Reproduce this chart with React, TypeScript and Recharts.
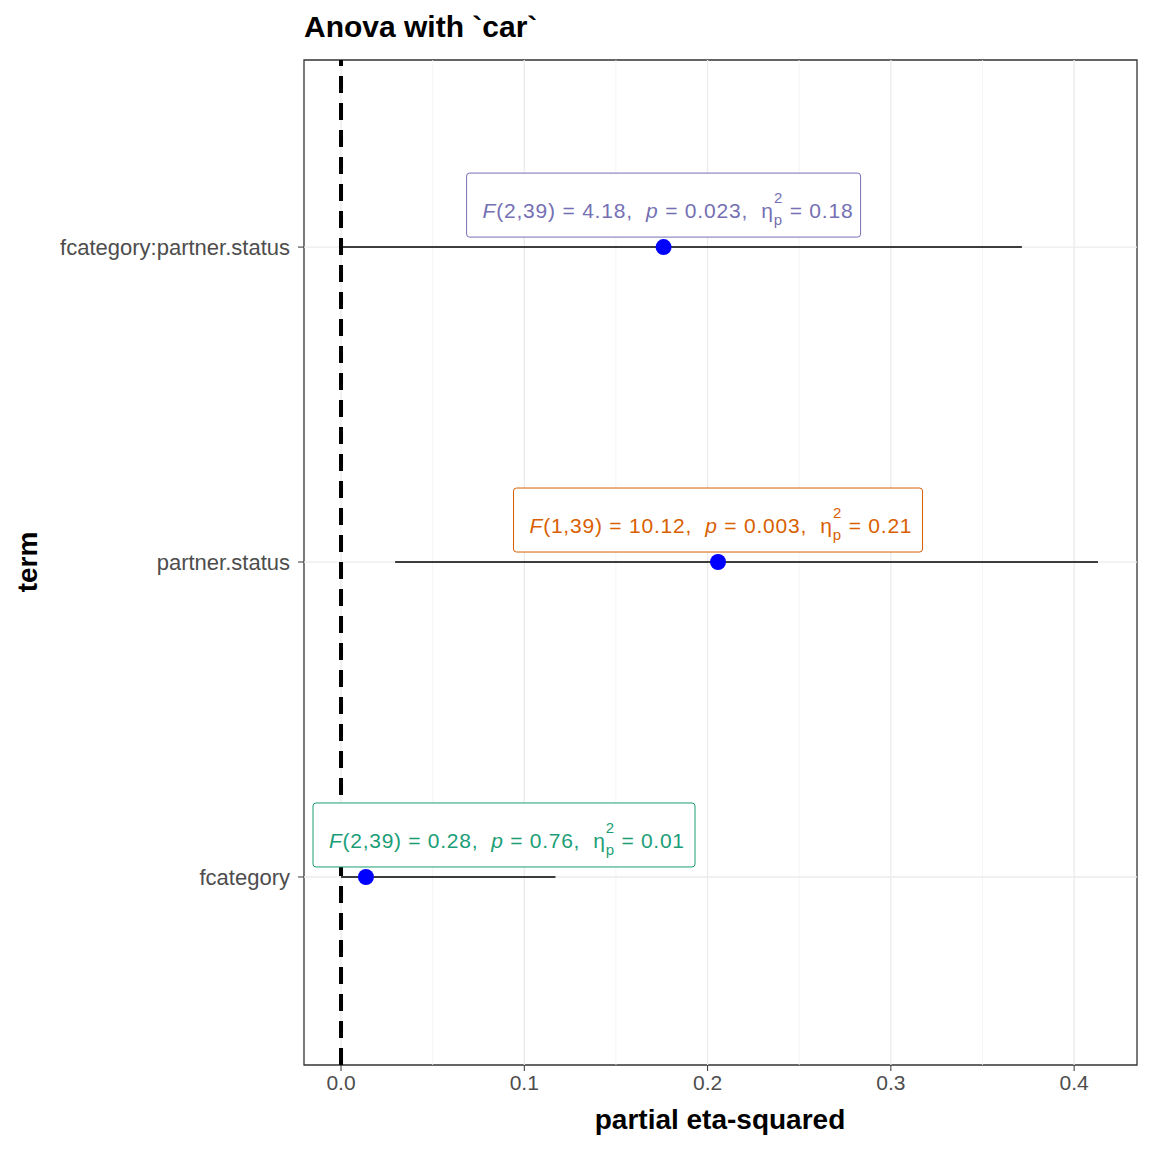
import React from "react";
import {
  ComposedChart,
  Scatter,
  XAxis,
  YAxis,
  ReferenceLine,
  ReferenceArea,
  ErrorBar,
} from "recharts";

const terms = ["fcategory", "partner.status", "fcategory:partner.status"];
const estimates = [0.0136, 0.2057, 0.176];
const ciLow = [0, 0.0295, 0];
const ciHigh = [0.117, 0.413, 0.3715];
const dfLabels = ["(2,39)", "(1,39)", "(2,39)"];
const fValues = ["0.28", "10.12", "4.18"];
const pValues = ["0.76", "0.003", "0.023"];
const etaValues = ["0.01", "0.21", "0.18"];
const labelColors = ["#1B9E77", "#D95F02", "#7570B3"];
const boxWidths = [382, 409, 394];
const textWidths = [355, 382, 370];
const xTicks = [0, 0.1, 0.2, 0.3, 0.4];
const gridTicks = [0, 0.05, 0.1, 0.15, 0.2, 0.25, 0.3, 0.35, 0.4];

const rows = terms.map((term, i) => ({
  term,
  y: i + 1,
  x: estimates[i],
  err: [estimates[i] - ciLow[i], ciHigh[i] - estimates[i]],
  i,
}));

const font = "'Liberation Sans', Arial, sans-serif";

function PointWithLabel(props: any) {
  const { cx, cy, payload } = props;
  const i = payload.i;
  const w = boxWidths[i];
  const left = Math.max(cx - w / 2, 313);
  const color = labelColors[i];
  const base = cy - 29;
  return (
    <g>
      <rect x={left} y={cy - 74} width={w} height={64} rx={3} fill="#fff" stroke={color} strokeWidth={1} />
      <text
        x={left + 16}
        y={base}
        fill={color}
        fontSize={21}
        fontFamily={font}
        textLength={textWidths[i]}
        lengthAdjust="spacing"
        style={{ whiteSpace: "pre" }}
      >
        <tspan fontStyle="italic">F</tspan>
        <tspan>{dfLabels[i]} = {fValues[i]},  </tspan>
        <tspan fontStyle="italic">p</tspan>
        <tspan> = {pValues[i]},  η</tspan>
        <tspan fontSize={15} dy={7}>p</tspan>
        <tspan fontSize={15} dx={-9} dy={-22}>2</tspan>
        <tspan dy={15}> = {etaValues[i]}</tspan>
      </text>
      <circle cx={cx} cy={cy} r={8} fill="#0000FF" />
    </g>
  );
}

export default function App() {
  return (
    <div style={{ position: "fixed", left: 0, top: 0, width: 1152, height: 1152, background: "#fff", fontFamily: font }}>
      <div style={{ position: "absolute", left: 304, top: 10, fontSize: 30, fontWeight: "bold", color: "#000" }}>
        Anova with `car`
      </div>
      <div style={{ position: "absolute", left: 470, width: 500, textAlign: "center", top: 1104, fontSize: 28, fontWeight: "bold" }}>
        partial eta-squared
      </div>
      <div
        style={{
          position: "absolute",
          left: 28,
          top: 562,
          fontSize: 28,
          fontWeight: "bold",
          transform: "translate(-50%, -50%) rotate(-90deg)",
        }}
      >
        term
      </div>
      <ComposedChart width={1152} height={1152} data={rows} margin={{ top: 60, right: 15, bottom: 0, left: 0 }}>
        {gridTicks.map((t) => (
          <ReferenceLine key={t} x={t} stroke={Math.round(t * 100) % 10 === 0 ? "#EBEBEB" : "#F3F3F3"} strokeWidth={Math.round(t * 100) % 10 === 0 ? 1.3 : 0.8} />
        ))}
        {[1, 2, 3].map((t) => (
          <ReferenceLine key={"h" + t} y={t} stroke="#EBEBEB" strokeWidth={1.3} />
        ))}
        <XAxis
          type="number"
          dataKey="x"
          domain={[-0.0202, 0.4343]}
          ticks={xTicks}
          tickFormatter={(v: number) => v.toFixed(1)}
          height={87}
          axisLine={false}
          tickLine={{ stroke: "#333" }}
          tickSize={6}
          tickMargin={4}
          tick={{ fill: "#4d4d4d", fontSize: 21, fontFamily: font }}
          allowDataOverflow
        />
        <YAxis
          type="number"
          dataKey="y"
          domain={[0.403, 3.594]}
          ticks={[1, 2, 3]}
          tickFormatter={(v: number) => terms[v - 1]}
          width={304}
          axisLine={false}
          tickLine={{ stroke: "#333" }}
          tickSize={6}
          tickMargin={8}
          tick={{ fill: "#4d4d4d", fontSize: 22, fontFamily: font }}
          allowDataOverflow
        />
        <ReferenceLine x={0} stroke="#000" strokeWidth={4} strokeDasharray="17 10" />
        <Scatter data={rows} dataKey="y" shape={PointWithLabel} isAnimationActive={false}>
          <ErrorBar dataKey="err" direction="x" width={0} stroke="#000" strokeWidth={1.5} />
        </Scatter>
        <ReferenceArea x1={-0.0202} x2={0.4343} y1={0.403} y2={3.594} fill="none" stroke="#333" strokeWidth={1.3} />
      </ComposedChart>
    </div>
  );
}
